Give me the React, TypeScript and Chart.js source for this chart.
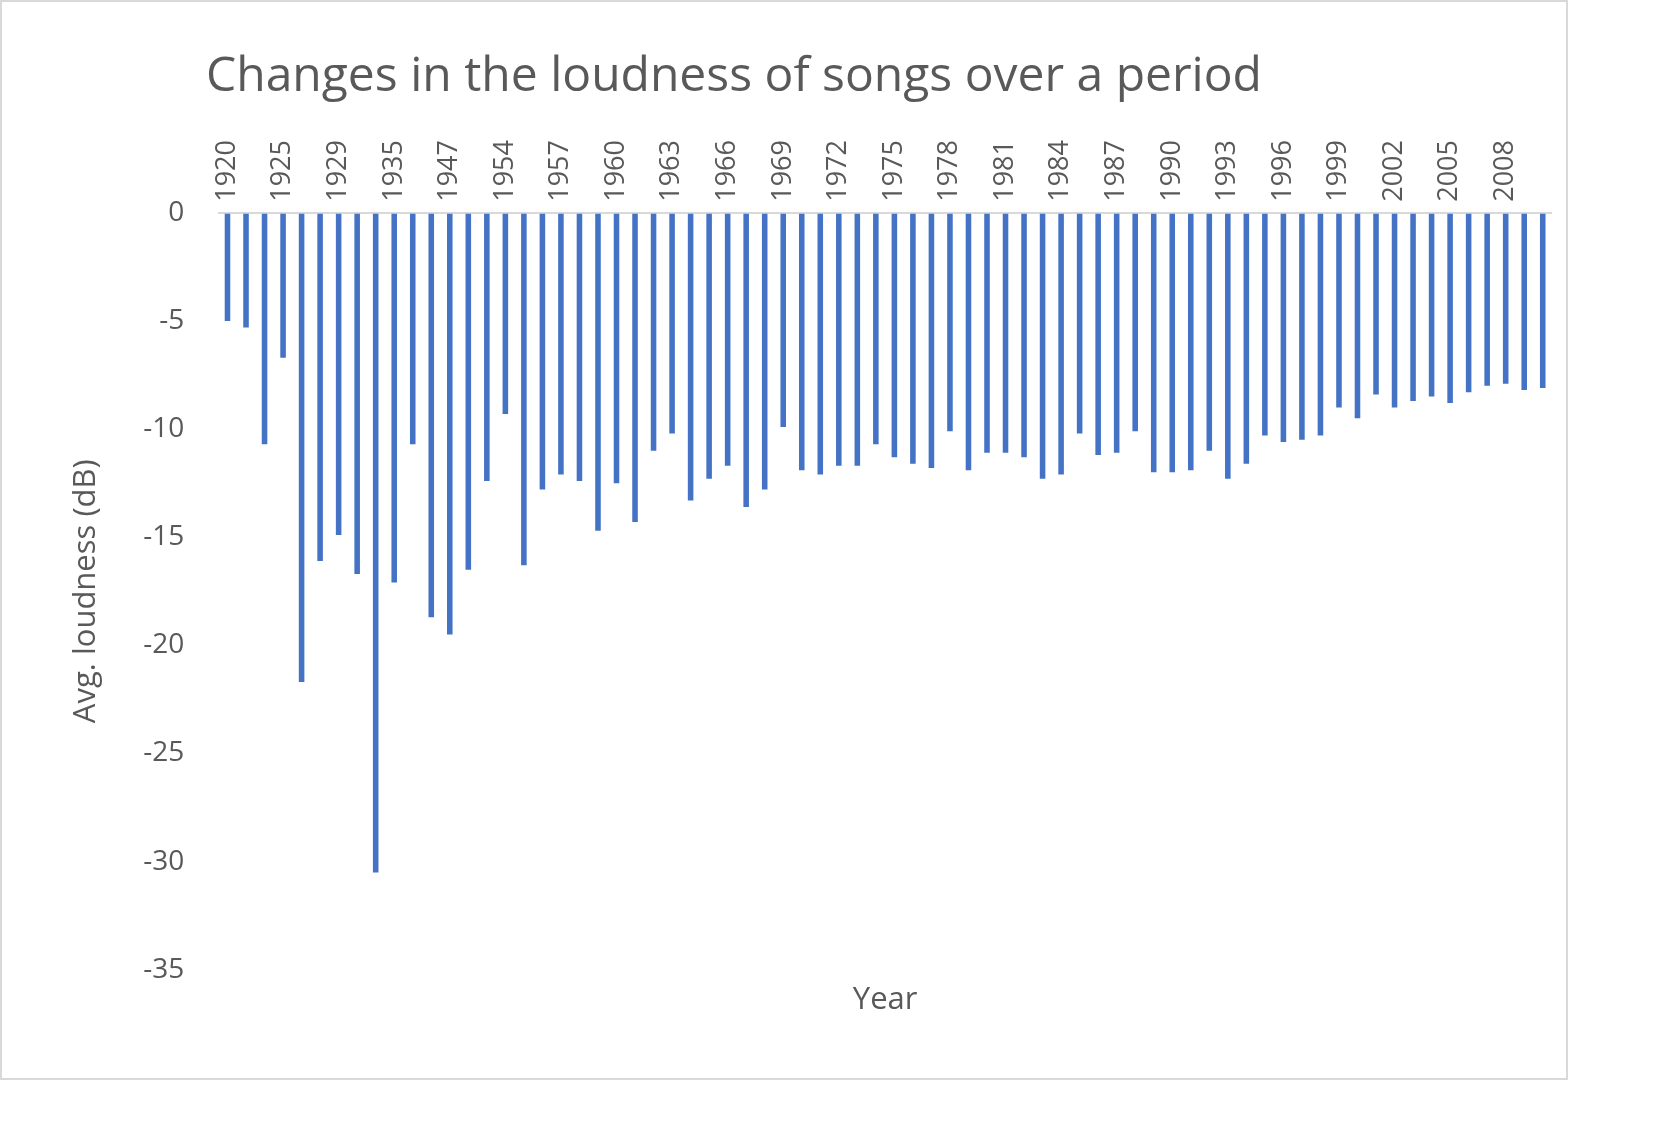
import { useEffect, useRef } from 'react';
import { Chart, registerables } from 'chart.js';

Chart.register(...registerables);

const years = [
  '1920', '1921', '1923', '1925', '1926', '1927', '1929', '1930', '1932', '1935', '1936', '1939',
  '1947', '1948', '1950', '1954', '1955', '1956',
  ...Array.from({ length: 54 }, (_, i) => String(1957 + i)),
];

const loudness = [
  -5.0, -5.3, -10.7, -6.7, -21.7, -16.1, -14.9, -16.7, -30.5, -17.1, -10.7, -18.7,
  -19.5, -16.5, -12.4, -9.3, -16.3, -12.8, -12.1, -12.4, -14.7, -12.5, -14.3, -11.0,
  -10.2, -13.3, -12.3, -11.7, -13.6, -12.8, -9.9, -11.9, -12.1, -11.7, -11.7, -10.7,
  -11.3, -11.6, -11.8, -10.1, -11.9, -11.1, -11.1, -11.3, -12.3, -12.1, -10.2, -11.2,
  -11.1, -10.1, -12.0, -12.0, -11.9, -11.0, -12.3, -11.6, -10.3, -10.6, -10.5, -10.3,
  -9.0, -9.5, -8.4, -9.0, -8.7, -8.5, -8.8, -8.3, -8.0, -7.9, -8.2, -8.1,
];

const FONT = '"Open Sans", "Liberation Sans", sans-serif';
const GREY = '#595959';

export default function App() {
  const canvasRef = useRef<HTMLCanvasElement>(null);

  useEffect(() => {
    document.body.style.margin = '0';
    if (!canvasRef.current) return;
    const chart = new Chart(canvasRef.current, {
      type: 'bar',
      data: {
        labels: years,
        datasets: [
          {
            label: 'Avg. loudness',
            data: loudness,
            backgroundColor: '#4472c4',
            barPercentage: 0.3,
            categoryPercentage: 1,
          },
        ],
      },
      options: {
        animation: false,
        responsive: false,
        layout: { padding: { left: 62, right: 14, top: 135, bottom: 55 } },
        plugins: {
          legend: { display: false },
          tooltip: { enabled: false },
        },
        scales: {
          x: {
            position: 'top',
            grid: { display: false },
            border: { display: false },
            ticks: {
              autoSkip: false,
              minRotation: 90,
              maxRotation: 90,
              labelOffset: 32,
              color: GREY,
              font: { family: FONT, size: 27 },
              callback: (_v, i) => (i % 3 === 0 ? years[i] : ''),
            },
          },
          x2: {
            position: 'bottom',
            grid: { display: false },
            border: { display: false },
            ticks: { display: false },
            title: { display: true, text: 'Year', color: GREY, font: { family: FONT, size: 31 } },
          },
          y: {
            min: -35,
            max: 0,
            ticks: { stepSize: 5, color: GREY, font: { family: FONT, size: 28 }, padding: 34 },
            grid: {
              color: (c) => (c.tick && c.tick.value === 0 ? '#d9d9d9' : 'transparent'),
              lineWidth: 2,
              drawTicks: false,
            },
            border: { display: false },
            title: { display: true, text: 'Avg. loudness (dB)', color: GREY, font: { family: FONT, size: 31 } },
          },
        },
      },
    });
    return () => chart.destroy();
  }, []);

  return (
    <div style={{ width: 1653, height: 1140, background: '#fff' }}>
      <div style={{ position: 'absolute', left: 0, top: 0, width: 1564, height: 1076, border: '2px solid #d9d9d9' }}>
        <canvas ref={canvasRef} width={1564} height={1076} style={{ display: 'block' }} />
        <div
          style={{
            position: 'absolute',
            left: 204,
            top: 38,
            fontFamily: FONT,
            fontSize: 48,
            color: GREY,
            whiteSpace: 'nowrap',
          }}
        >
          Changes in the loudness of songs over a period
        </div>
      </div>
    </div>
  );
}
